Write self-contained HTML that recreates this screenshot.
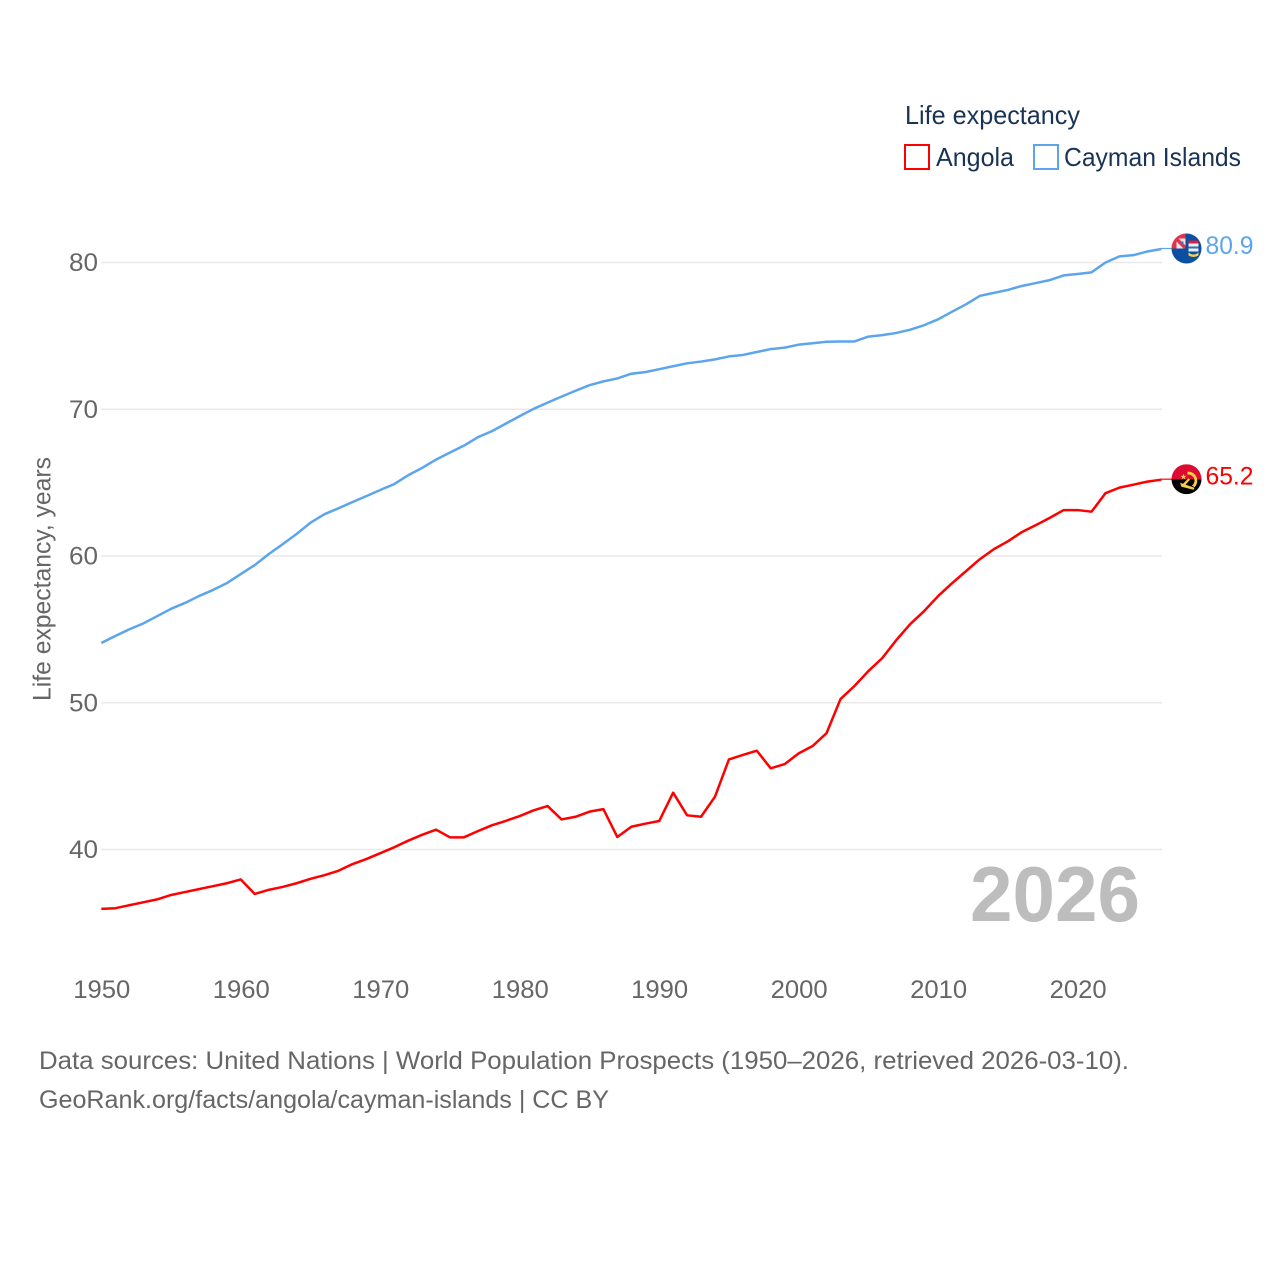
<!DOCTYPE html>
<html lang="en">
<head>
<meta charset="utf-8">
<title>Life expectancy: Angola and Cayman Islands</title>
<style>
html,body{margin:0;padding:0;background:#fff;}
svg{display:block;font-family:"Liberation Sans",sans-serif;}
</style>
</head>
<body>
<svg id="chart" xmlns="http://www.w3.org/2000/svg" width="1280" height="1280" viewBox="0 0 1280 1280">
  <rect width="1280" height="1280" fill="#ffffff"/>
  <g id="grid"></g>
  <g id="yticks"></g>
  <g id="xticks"></g>
  <text transform="translate(50.5,701) rotate(-90)" font-size="25" fill="#666666" textLength="244" lengthAdjust="spacingAndGlyphs">Life expectancy, years</text>

  <g>
    <text x="905" y="124" font-size="26" fill="#1a3355" textLength="175" lengthAdjust="spacingAndGlyphs">Life expectancy</text>
    <g>
      <rect x="905" y="145" width="24" height="24" fill="none" stroke="#ff0000" stroke-width="2"/>
      <text x="936" y="166" font-size="26" fill="#1a3355" textLength="78" lengthAdjust="spacingAndGlyphs">Angola</text>
    </g>
    <g>
      <rect x="1034" y="145" width="24" height="24" fill="none" stroke="#5ca5ee" stroke-width="2"/>
      <text x="1064" y="166" font-size="26" fill="#1a3355" textLength="177" lengthAdjust="spacingAndGlyphs">Cayman Islands</text>
    </g>
  </g>

  <text id="yearLabel" x="970" y="921" font-size="78" font-weight="700" fill="#bdbdbd" textLength="170" lengthAdjust="spacingAndGlyphs">2026</text>

  <g id="series"></g>

  <defs>
    <clipPath id="flagClip"><circle cx="0" cy="0" r="15"/></clipPath>
  </defs>

  <g id="flagCayman">
    <g clip-path="url(#flagClip)">
      <rect x="-15" y="-15" width="30" height="30" fill="#0b4ea2"/>
      <rect x="-15" y="-15" width="14" height="15" fill="#f4dfe2"/>
      <path d="M-15,-15H-1V-10H-8L-1,-3V0H-3L-10,-7V0H-15Z" fill="#e0344c"/>
      <path d="M-7,-7L-3,-7L-3,-3Z" fill="#5a6fa8"/>
      <rect x="2" y="-8" width="10" height="3" fill="#d8203a"/>
      <rect x="2" y="-5" width="10" height="8" fill="#e8eef6"/>
      <rect x="2" y="-2" width="10" height="2" fill="#3c6cb4"/>
      <path d="M2,4Q7,8 12,4V7Q7,10 2,7Z" fill="#f5d34a"/>
    </g>
  </g>

  <g id="flagAngola">
    <g clip-path="url(#flagClip)">
      <rect x="-15" y="-15" width="30" height="15" fill="#dd0a32"/>
      <rect x="-15" y="0" width="30" height="15" fill="#000000"/>
      <path d="M1,-7.5A9,9 0 0 1 8,8L5.5,6.3A6,6 0 0 0 1,-4.5Z" fill="#f6cf45"/>
      <path d="M-6.5,3.5L8,8.5L7,10.5L-5,7.5Z" fill="#f6cf45"/>
      <path d="M-4.5,5.5L2,-1L3.5,0.5L-2.5,7Z" fill="#f6cf45"/>
      <path d="M-3,-5.5L-2.2,-3.3H0L-1.8,-2L-1,0.2L-3,-1.1L-5,0.2L-4.2,-2L-6,-3.3H-3.8Z" fill="#f6cf45"/>
    </g>
  </g>

  <g>
    <text x="39" y="1069" font-size="25" fill="#666666" textLength="1090" lengthAdjust="spacingAndGlyphs">Data sources: United Nations | World Population Prospects (1950–2026, retrieved 2026-03-10).</text>
    <text x="39" y="1108" font-size="25" fill="#666666" textLength="570" lengthAdjust="spacingAndGlyphs">GeoRank.org/facts/angola/cayman-islands | CC BY</text>
  </g>
</svg>
<script>
const years = [1950,1951,1952,1953,1954,1955,1956,1957,1958,1959,1960,1961,1962,1963,1964,1965,1966,1967,1968,1969,1970,1971,1972,1973,1974,1975,1976,1977,1978,1979,1980,1981,1982,1983,1984,1985,1986,1987,1988,1989,1990,1991,1992,1993,1994,1995,1996,1997,1998,1999,2000,2001,2002,2003,2004,2005,2006,2007,2008,2009,2010,2011,2012,2013,2014,2015,2016,2017,2018,2019,2020,2021,2022,2023,2024,2025,2026];
const angola = [35.95,36.0,36.2,36.4,36.6,36.9,37.1,37.3,37.5,37.7,37.96,36.97,37.25,37.45,37.7,38.0,38.25,38.55,39.0,39.35,39.75,40.15,40.6,41.0,41.35,40.83,40.83,41.25,41.65,41.95,42.28,42.67,42.96,42.05,42.23,42.58,42.75,40.85,41.55,41.76,41.94,43.87,42.33,42.23,43.6,46.14,46.44,46.73,45.53,45.82,46.55,47.05,47.93,50.25,51.14,52.16,53.05,54.27,55.36,56.25,57.27,58.15,58.97,59.79,60.47,61.0,61.63,62.1,62.6,63.13,63.13,63.02,64.28,64.66,64.86,65.07,65.2];
const cayman = [54.07,54.55,55.0,55.4,55.9,56.4,56.8,57.27,57.68,58.15,58.77,59.38,60.13,60.8,61.5,62.27,62.85,63.25,63.67,64.08,64.5,64.9,65.5,66.0,66.57,67.05,67.52,68.1,68.5,69.02,69.53,70.03,70.45,70.86,71.26,71.64,71.9,72.1,72.42,72.53,72.73,72.93,73.13,73.25,73.4,73.6,73.7,73.9,74.1,74.2,74.4,74.5,74.6,74.62,74.62,74.95,75.05,75.2,75.42,75.73,76.13,76.65,77.15,77.73,77.93,78.13,78.4,78.6,78.8,79.12,79.22,79.33,80.0,80.42,80.5,80.75,80.92];
const yTickLabels = [40,50,60,70,80];
const xTickLabels = [1950,1960,1970,1980,1990,2000,2010,2020];

const NS = 'http://www.w3.org/2000/svg';
const xScale = function (year) { return 101.3 + (year - 1950) * (1161.3 - 101.3) / (2026 - 1950); };
const yScale = function (value) { return 849.5 - (value - 40) * (849.5 - 262.5) / (80 - 40); };

function make(tag, attrs, parent, text) {
  const el = document.createElementNS(NS, tag);
  for (const k in attrs) el.setAttribute(k, attrs[k]);
  if (text !== undefined) el.textContent = text;
  parent.appendChild(el);
  return el;
}

const grid = document.getElementById('grid');
const yticks = document.getElementById('yticks');
const xticks = document.getElementById('xticks');
const seriesGroup = document.getElementById('series');
const chart = document.getElementById('chart');

yTickLabels.forEach(function (v) {
  const gl = make('line', {x1: 101, x2: 1162, y1: yScale(v), y2: yScale(v), stroke: '#e9e9e9', 'stroke-width': 1.5}, grid);
  
  
  const t = make('text', {x: 98, y: yScale(v) + 8.5, 'text-anchor': 'end', 'font-size': 25, fill: '#666666', textLength: 29, lengthAdjust: 'spacingAndGlyphs'}, yticks, String(v));
  
  
});

xTickLabels.forEach(function (v) {
  const t = make('text', {x: xScale(v) + 0.5, y: 998, 'text-anchor': 'middle', 'font-size': 25, fill: '#666666', textLength: 57, lengthAdjust: 'spacingAndGlyphs'}, xticks, String(v));
  
  
});

function drawSeries(values, color, key, flagId) {
  const pts = values.map(function (v, i) { return xScale(years[i]).toFixed(2) + ',' + yScale(v).toFixed(2); }).join(' ');
  const line = make('polyline', {points: pts, fill: 'none', stroke: color, 'stroke-width': 2.5, 'stroke-linejoin': 'round'}, seriesGroup);
  
  
  const last = values[values.length - 1];
  const ly = yScale(last);
  const conn = make('line', {x1: 1161, x2: 1172, y1: ly - 0.5, y2: ly - 0.5, stroke: color, 'stroke-width': 1.2}, seriesGroup);
  
  
  document.getElementById(flagId).setAttribute('transform', 'translate(1186.5,' + (ly - 0.5) + ')');
  const lab = make('text', {x: 1205.5, y: ly + 5, 'font-size': 25, fill: color, textLength: 48, lengthAdjust: 'spacingAndGlyphs'}, chart, last.toFixed(1));
  
  
}

drawSeries(angola, '#ff0000', 'angola', 'flagAngola');
drawSeries(cayman, '#5ca5ee', 'cayman-islands', 'flagCayman');
</script>
</body>
</html>
